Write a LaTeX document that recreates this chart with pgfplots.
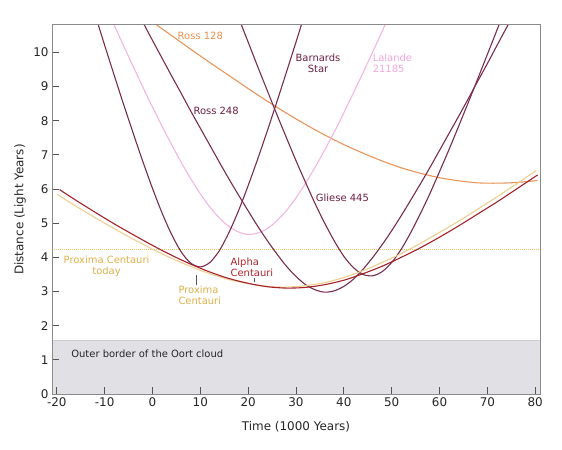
\documentclass[border=0pt]{standalone}
\usepackage{pgfplots}
\pgfplotsset{compat=1.18}
\usepackage{fontspec}
\setmainfont{DejaVu Sans}
\definecolor{alphac}{HTML}{A3222B}
\definecolor{alphalab}{HTML}{B0242C}
\definecolor{proxc}{HTML}{EDD08F}
\definecolor{proxlab}{HTML}{E0B04A}
\definecolor{purp}{HTML}{7A2C50}
\definecolor{purplab}{HTML}{6E1E42}
\definecolor{lalc}{HTML}{F4B6E2}
\definecolor{lallab}{HTML}{F3A6DA}
\definecolor{rossc}{HTML}{E9955A}
\definecolor{rosslab}{HTML}{E8914C}
\definecolor{oortgray}{HTML}{E1E0E5}
\definecolor{oortline}{HTML}{CFCED4}
\definecolor{axisgray}{HTML}{8A8A8A}
\definecolor{tickgray}{HTML}{555555}
\definecolor{todayline}{RGB}{236,196,90}
\begin{document}
\begin{tikzpicture}
\useasboundingbox (0,0) rectangle (562bp,450bp);
\begin{axis}[
  at={(52bp,56bp)}, anchor=south west,
  width=488bp, height=369bp, scale only axis,
  xmin=-21, xmax=81, ymin=0, ymax=10.8,
  xtick={-20,-10,...,80}, ytick={0,1,...,10},
  tick align=inside, major tick length=7bp,
  xtick pos=bottom, ytick pos=left,
  axis line style={draw=axisgray, line width=1bp},
  tick style={draw=tickgray, line width=0.8bp},
  ticklabel style={font=\fontsize{12}{14}\selectfont, text=black!85},
  /pgf/number format/assume math mode=true,
  xlabel={Time (1000 Years)}, ylabel={Distance (Light Years)},
  label style={font=\fontsize{12}{14}\selectfont, text=black!85},
  xlabel style={at={(axis description cs:0.5,-0.0886)}, anchor=center},
  ylabel style={at={(axis description cs:-0.0656,0.5)}, anchor=center},
  axis on top,
]
% Oort cloud band
\addplot[draw=none, fill=oortgray] coordinates {(-21,1.58) (81,1.58)} \closedcycle;
\addplot[color=oortline, line width=0.7bp] coordinates {(-21,1.58) (81,1.58)};
% Proxima today
\addplot[color=todayline, line width=1bp, dash pattern=on 1bp off 1bp] coordinates {(-21,4.24) (81,4.24)};
% Ross 128
\addplot[color=rossc, line width=1.1bp, smooth] coordinates {
(0,10.89) (2,10.69) (4,10.49) (8,10.09) (12,9.70) (16,9.32) (20,8.94) (24,8.57)
(28,8.22) (32,7.89) (36,7.58) (40,7.30) (44,7.05) (48,6.82) (52,6.62) (56,6.46)
(60,6.33) (64,6.24) (68,6.18) (72,6.17) (76,6.19) (80.5,6.25)};
% Lalande 21185
\addplot[color=lalc, line width=1.1bp, smooth] coordinates {
(-10,11.42) (-8,10.80) (-6,10.18) (-4,9.58) (-2,8.98) (0,8.40) (2,7.84) (4,7.30)
(6,6.78) (8,6.30) (10,5.86) (12,5.47) (14,5.15) (16,4.90) (18,4.74) (20,4.67)
(22,4.71) (24,4.84) (26,5.07) (28,5.37) (30,5.74) (32,6.17) (34,6.64) (36,7.14)
(38,7.67) (40,8.23) (42,8.81) (44,9.40) (46,10.00) (48,10.61) (50,11.24)};
% Barnards Star
\addplot[color=purp, line width=1.1bp, smooth] coordinates {
(-12,11.11) (-10,10.21) (-8,9.33) (-6,8.46) (-4,7.62) (-2,6.80) (0,6.02) (2,5.30)
(4,4.67) (6,4.16) (8,3.83) (10,3.72) (12,3.85) (14,4.20) (16,4.73) (18,5.37)
(20,6.10) (22,6.88) (24,7.70) (26,8.55) (28,9.42) (30,10.30) (32,11.20)};
% Ross 248
\addplot[color=purp, line width=1.1bp, smooth] coordinates {
(-2,10.88) (0,10.35) (2,9.83) (4,9.31) (6,8.80) (8,8.28) (10,7.78) (12,7.28)
(14,6.78) (16,6.29) (18,5.82) (20,5.36) (22,4.91) (24,4.49) (26,4.10) (28,3.74)
(30,3.44) (32,3.20) (34,3.05) (36,2.98) (38,3.02) (40,3.15) (42,3.36) (44,3.65)
(46,3.99) (48,4.37) (50,4.78) (52,5.22) (54,5.68) (56,6.15) (58,6.63) (60,7.13)
(62,7.63) (64,8.13) (66,8.64) (68,9.16) (70,9.67) (72,10.20) (74,10.72) (76,11.25)};
% Gliese 445
\addplot[color=purp, line width=1.1bp, smooth] coordinates {
(18,11.01) (20,10.30) (22,9.58) (24,8.88) (26,8.18) (28,7.50) (30,6.83) (32,6.19)
(34,5.57) (36,5.00) (38,4.48) (40,4.03) (42,3.70) (44,3.50) (46,3.46) (48,3.58)
(50,3.85) (52,4.24) (54,4.73) (56,5.28) (58,5.87) (60,6.51) (62,7.16) (64,7.84)
(66,8.53) (68,9.23) (70,9.94) (72,10.65) (74,11.38)};
% Proxima Centauri
\addplot[color=proxc, line width=1.1bp, smooth] coordinates {
(-19.9,5.84) (-16,5.50) (-12,5.16) (-8,4.84) (-4,4.53) (0,4.24) (4,3.97) (8,3.73)
(12,3.52) (16,3.35) (20,3.23) (24,3.15) (28,3.13) (32,3.17) (36,3.26) (40,3.41)
(44,3.61) (48,3.85) (52,4.11) (56,4.41) (60,4.73) (64,5.06) (68,5.41) (72,5.77)
(76,6.14) (80.2,6.54)};
% Alpha Centauri
\addplot[color=alphac, line width=1.1bp, smooth] coordinates {
(-19.4,5.98) (-16,5.67) (-12,5.32) (-8,4.98) (-4,4.66) (0,4.35) (4,4.06) (8,3.80)
(12,3.57) (16,3.38) (20,3.24) (24,3.14) (28,3.10) (32,3.12) (36,3.20) (40,3.33)
(44,3.52) (48,3.74) (52,4.00) (56,4.28) (60,4.59) (64,4.92) (68,5.27) (72,5.62)
(76,5.99) (80.5,6.41)};
% annotation ticks
\draw[color=tickgray, line width=0.6bp] (axis cs:21.2,3.27) -- (axis cs:21.2,3.40);
\draw[color=tickgray, line width=0.6bp] (axis cs:9.1,3.20) -- (axis cs:9.1,3.49);
% labels
\tikzset{lab/.style={font=\fontsize{10}{11}\selectfont, inner sep=0pt}}
\node[lab, text=rosslab] at (axis cs:10,10.49) {Ross 128};
\node[lab, text=purplab] at (axis cs:13.3,8.29) {Ross 248};
\node[lab, text=purplab, align=center] at (axis cs:34.6,9.67) {Barnards\\Star};
\node[lab, text=lallab, align=left, anchor=west] at (axis cs:46,9.67) {Lalande\\21185};
\node[lab, text=purplab] at (axis cs:39.7,5.75) {Gliese 445};
\node[lab, text=alphalab, align=left, anchor=west] at (axis cs:16.3,3.70) {Alpha\\Centauri};
\node[lab, text=proxlab, align=left, anchor=west] at (axis cs:5.4,2.89) {Proxima\\Centauri};
\node[lab, text=proxlab, align=center] at (axis cs:-9.6,3.74) {Proxima Centauri\\today};
\node[lab, text=black!85, anchor=west] at (axis cs:-17,1.18) {Outer border of the Oort cloud};
\end{axis}
\end{tikzpicture}
\end{document}
